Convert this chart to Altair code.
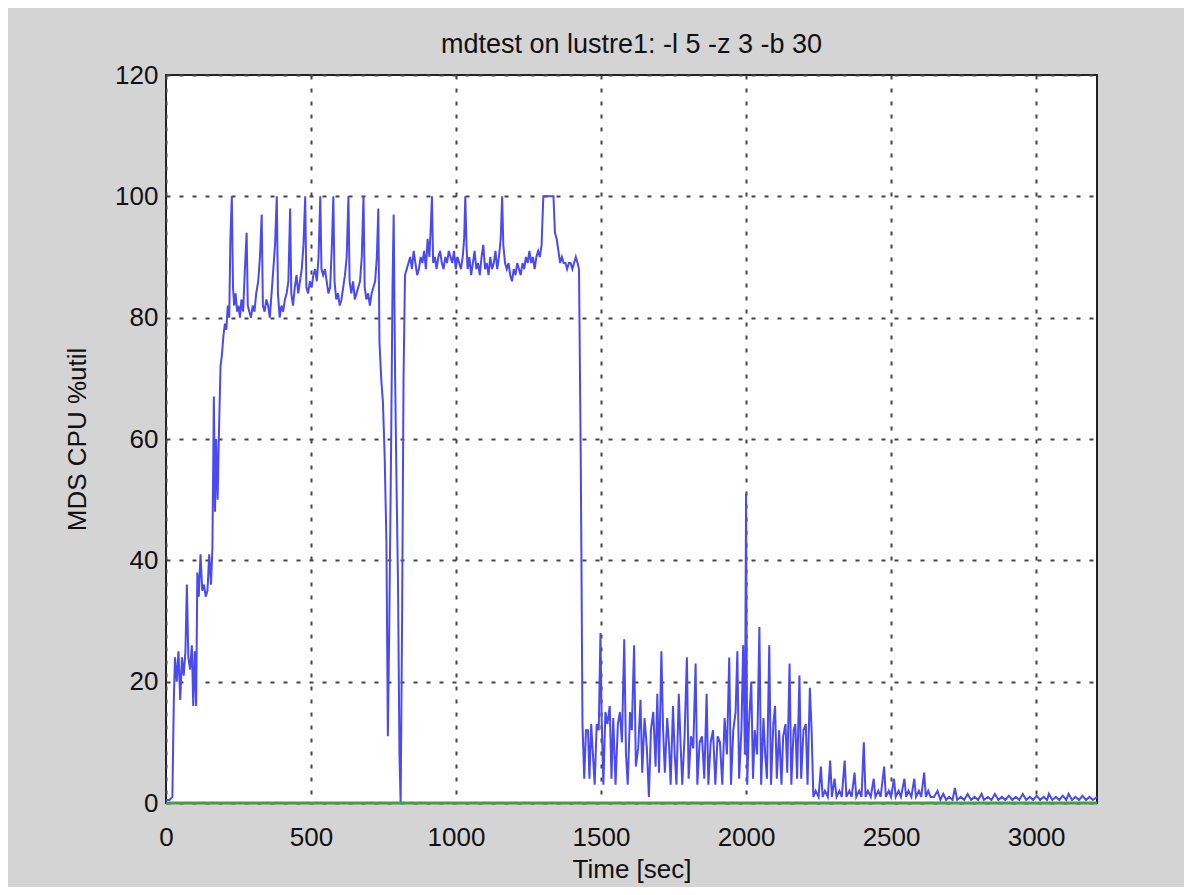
import altair as alt
import pandas as pd

# ---- data ----
ramp_t = [0, 12, 22, 27, 31, 37, 43, 49, 55, 61, 67, 72, 77, 83, 89, 94, 99, 104, 108, 113,
          119, 125, 131, 137, 143, 149, 155, 160, 165, 169, 173, 178, 183, 188, 193, 198, 203, 208, 213, 218]
ramp_v = [0.5, 0.5, 1, 17, 24, 20, 25, 17, 24, 21, 25, 36, 24, 22, 26, 16, 25, 16, 38, 34,
          41, 35, 36, 34, 35, 41, 36, 42, 67, 48, 60, 50, 62, 72, 74, 77, 79, 78, 82, 80]

high1_t = [222, 227, 231, 235, 240, 245, 250, 255, 260, 266, 272, 278, 282, 287, 293, 299, 305, 311, 318, 324,
           330, 334, 340, 346, 352, 358, 364, 370, 376, 382, 386, 392, 398, 404, 410, 416, 422, 428, 432, 438,
           444, 450, 456, 462, 468, 474, 480, 484, 490, 496, 502, 508, 514, 520, 526, 532, 536, 542, 548, 554,
           560, 566, 572, 577, 581, 587, 593, 599, 605, 611, 617, 623, 629, 633, 639, 645, 651, 657, 663, 669,
           675, 681, 685, 691, 697, 703, 709, 715, 721, 727, 732, 736, 742, 748, 754, 760, 765, 770, 776, 781,
           785, 790, 795, 800, 805, 809, 814, 819, 824, 830]
high1_v = [93, 100, 85, 82, 84, 81, 82, 80, 83, 81, 88, 94, 82, 81, 80, 82, 81, 84, 86, 90,
           97, 82, 81, 83, 82, 80, 84, 88, 92, 100, 84, 80, 82, 81, 83, 84, 86, 98, 84, 82,
           85, 87, 84, 86, 88, 92, 100, 85, 84, 86, 85, 87, 88, 86, 90, 100, 88, 87, 88, 86,
           84, 85, 92, 100, 86, 83, 84, 82, 83, 85, 87, 90, 100, 86, 84, 86, 83, 84, 85, 86,
           90, 100, 85, 83, 84, 82, 84, 85, 86, 90, 98, 76, 70, 66, 57, 43, 11, 30, 58, 85,
           97, 70, 52, 36, 8, 0, 30, 70, 87, 88]

high2_t = [836, 842, 848, 854, 860, 866, 872, 878, 884, 890, 896, 902, 908, 913, 917, 921, 927, 933, 939, 945,
           951, 957, 963, 969, 975, 981, 987, 993, 999, 1005, 1011, 1017, 1023, 1028, 1032, 1036, 1040, 1046, 1052, 1058,
           1064, 1070, 1076, 1082, 1088, 1094, 1100, 1106, 1112, 1118, 1124, 1130, 1136, 1142, 1148, 1154, 1159, 1163, 1169, 1175,
           1181, 1187, 1193, 1199, 1205, 1211, 1217, 1223, 1229, 1235, 1241, 1247, 1253, 1259, 1265, 1271, 1277, 1283, 1289, 1295,
           1301, 1310, 1320, 1328, 1336, 1341, 1347, 1353, 1359, 1365, 1371, 1377, 1383, 1389, 1395, 1401, 1407, 1413, 1419, 1424]
high2_v = [89, 90, 88, 91, 89, 87, 88, 90, 89, 91, 88, 93, 90, 95, 100, 89, 90, 88, 90, 91,
           89, 88, 90, 89, 91, 90, 89, 91, 88, 90, 89, 88, 90, 93, 100, 92, 88, 90, 87, 89,
           91, 88, 89, 87, 90, 92, 88, 89, 87, 90, 88, 89, 91, 88, 90, 93, 100, 92, 89, 88,
           89, 87, 86, 88, 87, 89, 88, 87, 89, 88, 90, 89, 91, 89, 90, 88, 90, 91, 90, 92,
           100, 100, 100, 100, 100, 94, 93, 91, 89, 90, 89, 89, 88, 89, 89, 88, 89, 90, 89, 88]

low_t = [1430, 1436, 1442, 1448, 1455, 1460, 1466, 1472, 1478, 1485, 1492, 1498, 1502, 1508, 1515, 1522, 1530, 1536, 1542, 1550,
         1558, 1565, 1572, 1580, 1586, 1592, 1600, 1606, 1614, 1620, 1628, 1636, 1642, 1650, 1658, 1665, 1672, 1680, 1688, 1694,
         1700, 1708, 1714, 1720, 1728, 1734, 1740, 1748, 1754, 1760, 1768, 1774, 1780, 1788, 1796, 1802, 1810, 1818, 1826, 1832,
         1840, 1848, 1856, 1864, 1870, 1878, 1886, 1894, 1902, 1910, 1918, 1926, 1934, 1942, 1948, 1956, 1964, 1970, 1976, 1984,
         1990, 1996, 2000, 2004, 2010, 2018, 2024, 2030, 2038, 2046, 2052, 2060, 2066, 2072, 2080, 2086, 2094, 2100, 2106, 2114,
         2122, 2128, 2136, 2142, 2150, 2156, 2164, 2170, 2176, 2184, 2190, 2198, 2206, 2212, 2220, 2226, 2232]
low_v = [57, 13, 4, 12, 12, 4, 13, 8, 3, 13, 12, 28, 14, 3, 15, 13, 16, 4, 14, 3,
         13, 15, 10, 27, 8, 3, 15, 12, 26, 6, 9, 17, 5, 14, 9, 1, 12, 15, 6, 18,
         5, 25, 12, 5, 14, 10, 3, 16, 8, 3, 18, 10, 3, 11, 24, 4, 11, 9, 23, 3,
         10, 11, 4, 18, 3, 10, 12, 3, 11, 10, 3, 14, 8, 24, 3, 12, 15, 25, 4, 12,
         26, 8, 51, 3, 13, 20, 4, 12, 8, 29, 3, 14, 8, 4, 26, 3, 13, 16, 4, 12,
         3, 11, 13, 5, 23, 3, 12, 13, 4, 21, 4, 12, 13, 3, 19, 12, 1]

tail_t = [2240, 2250, 2258, 2264, 2272, 2282, 2290, 2296, 2305, 2312, 2322, 2330, 2340, 2346, 2356, 2364, 2374, 2380, 2390, 2398,
          2406, 2412, 2420, 2430, 2440, 2446, 2456, 2464, 2476, 2482, 2492, 2500, 2510, 2516, 2526, 2534, 2546, 2552, 2560, 2570,
          2580, 2586, 2596, 2604, 2614, 2620, 2628, 2636, 2648, 2660, 2670, 2680, 2690, 2700, 2712, 2720, 2728, 2740, 2752, 2764,
          2776, 2788, 2800, 2812, 2820, 2834, 2846, 2858, 2870, 2882, 2894, 2906, 2918, 2930, 2942, 2954, 2966, 2978, 2990, 3002,
          3014, 3026, 3038, 3044, 3056, 3068, 3080, 3092, 3104, 3112, 3124, 3136, 3148, 3160, 3172, 3184, 3196, 3210]
tail_v = [2, 1, 6, 1, 2, 1, 7, 1, 4, 1, 2, 1, 7, 1, 2, 1, 5, 1, 2, 1,
          10, 1, 2, 1, 4, 1, 2, 1, 6, 1, 2, 1, 4, 1, 2, 1, 4, 1, 2, 1,
          4, 1, 2, 1, 5, 1, 2, 1, 1, 2, 0.5, 1.5, 0.5, 1, 0.5, 2.5, 0.5, 1, 0.5, 1.5,
          0.5, 1, 0.5, 1.5, 0.5, 1, 0.5, 1.5, 0.5, 1, 0.5, 1.2, 0.5, 1, 0.5, 1.5, 0.5, 1, 0.5, 1.2,
          0.5, 1, 0.5, 1.5, 0.5, 1, 0.5, 1.2, 0.5, 1.5, 0.5, 1, 0.5, 1.2, 0.5, 1, 0.5, 1]

baseline_t = [0, 3210]
baseline_v = [0, 0]

x_ticks = [0, 500, 1000, 1500, 2000, 2500, 3000]
y_ticks = [0, 20, 40, 60, 80, 100, 120]

cpu = pd.DataFrame({
    "t": ramp_t + high1_t + high2_t + low_t + tail_t,
    "v": ramp_v + high1_v + high2_v + low_v + tail_v,
})
base = pd.DataFrame({"t": baseline_t, "v": baseline_v})

FONT = "Liberation Sans"

x_enc = alt.X("t:Q", scale=alt.Scale(domain=[0, 3210], nice=False, zero=False),
              axis=alt.Axis(values=x_ticks, format="d", title="Time [sec]", labelFontSize=26, titleFontSize=26,
                            labelFont=FONT, titleFont=FONT, titleFontWeight="normal",
                            labelColor="#111", titleColor="#111", labelPadding=21, titlePadding=6,
                            ticks=False, domain=False, grid=True, gridDash=[4, 9], gridColor="#444",
                            gridWidth=2, gridOpacity=1, labelFlush=False))
y_enc = alt.Y("v:Q", scale=alt.Scale(domain=[0, 120], nice=False),
              axis=alt.Axis(values=y_ticks, format="d", title="MDS CPU %util", labelFontSize=26, titleFontSize=26,
                            labelFont=FONT, titleFont=FONT, titleFontWeight="normal",
                            labelColor="#111", titleColor="#111", labelPadding=8, titlePadding=24,
                            ticks=False, domain=False, grid=True, gridDash=[4, 9], gridColor="#444",
                            gridWidth=2, gridOpacity=1, labelFlush=False))

cpu_line = alt.Chart(cpu).mark_line(color="#4a4af0", strokeWidth=2).encode(x=x_enc, y=y_enc)
base_line = alt.Chart(base).mark_line(color="#4a9a4a", strokeWidth=3).encode(x="t:Q", y="v:Q")

chart = alt.layer(cpu_line, base_line).properties(
    width=931, height=728,
    title=alt.TitleParams("mdtest on lustre1: -l 5 -z 3 -b 30", fontSize=27, font=FONT,
                          fontWeight="normal", color="#111", anchor="middle", offset=3),
    background="#d4d4d4",
    autosize=alt.AutoSizeParams(type="none"),
    padding={"left": 158, "top": 67, "right": 87, "bottom": 84},
).configure_view(fill="white", stroke="#222", strokeWidth=2)

chart.save("out.html", embed_options={"renderer": "svg", "actions": False})
